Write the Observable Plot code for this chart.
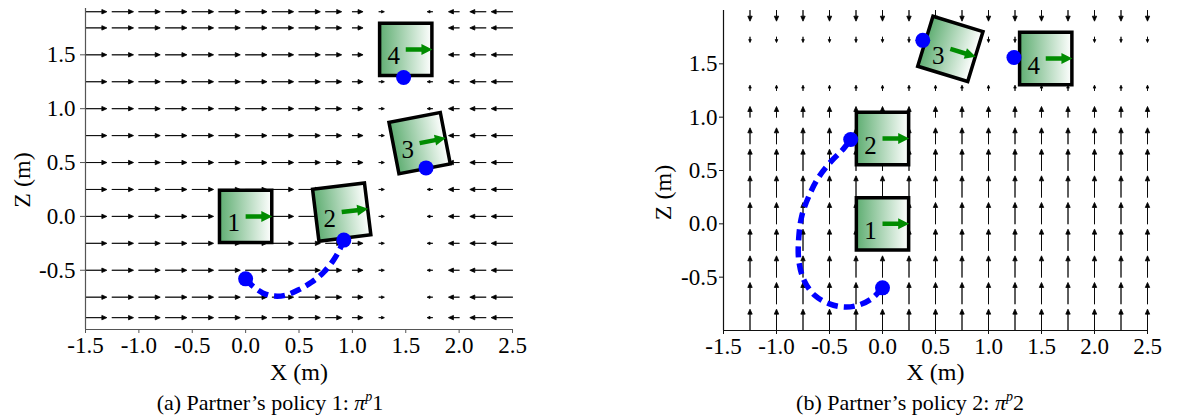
<!DOCTYPE html>
<html><head><meta charset="utf-8">
<script src="https://cdn.jsdelivr.net/npm/d3@7"></script>
<script src="https://cdn.jsdelivr.net/npm/@observablehq/plot@0.6"></script>
<style>
body{margin:0;background:#fff;}
#wrap{position:relative;width:1180px;height:417px;font-family:"Liberation Serif","Times New Roman",serif;overflow:hidden;}
.panel{position:absolute;top:0;}
#wrap svg text{font-family:"Liberation Serif","Times New Roman",serif !important;}
#wrap svg g[aria-label$="tick label"]{font-size:23px !important;}
.cap{position:absolute;top:391px;width:540px;text-align:center;font-size:22px;line-height:24px;color:#000;}
.cap sup{font-size:14px;vertical-align:9px;line-height:0;}
</style></head>
<body>
<svg width="0" height="0" style="position:absolute"><defs>
<linearGradient id="boxGrad" x1="0" y1="0" x2="1" y2="0">
<stop offset="0" stop-color="#5fae72"/><stop offset="1" stop-color="#ffffff"/>
</linearGradient></defs></svg>
<div id="wrap">
  <div id="pa" class="panel" style="left:0"></div>
  <div id="pb" class="panel" style="left:640px"></div>
  <div class="cap" style="left:0">(a) Partner’s policy 1: <i>π</i><sup><i>p</i></sup>1</div>
  <div class="cap" style="left:640px">(b) Partner’s policy 2: <i>π</i><sup><i>p</i></sup>2</div>
</div>
<script>
// ---------- shared ticks ----------
const xTicks = [-1.5, -1.0, -0.5, 0.0, 0.5, 1.0, 1.5, 2.0, 2.5];
const yTicks = [-0.5, 0.0, 0.5, 1.0, 1.5];

// ---------- panel (a): partner's policy 1 ----------
const aFieldX = [-1.5,-1.25,-1,-0.75,-0.5,-0.25,0,0.25,0.5,0.75,1,1.25,1.5,1.75,2,2.25,2.5];
const aFieldU = [0.2,0.2,0.2,0.2,0.2,0.2,0.2,0.2,0.2,0.15,0.1,0.05,0,-0.05,-0.1,-0.15,-0.2];
const aFieldZ = [1.9,1.75,1.5,1.25,1,0.75,0.5,0.25,0,-0.25,-0.5,-0.75,-0.94];
const aBoxId = ["1","2","3","4"];
const aBoxX = [0, 0.9, 1.63, 1.5];
const aBoxZ = [0, 0.04, 0.68, 1.55];
const aBoxAngle = [0, -7, -11, 0];
const aDotX = [0, 0.92, 1.69, 1.48];
const aDotZ = [-0.58, -0.22, 0.45, 1.29];
const aPathX = [0, 0.07, 0.16, 0.27, 0.38, 0.5, 0.62, 0.73, 0.82, 0.88, 0.92];
const aPathZ = [-0.58, -0.65, -0.71, -0.74, -0.73, -0.68, -0.61, -0.52, -0.41, -0.31, -0.22];

// ---------- panel (b): partner's policy 2 ----------
const bFieldX = [-1.25,-1,-0.75,-0.5,-0.25,0,0.25,0.5,0.75,1,1.25,1.5,1.75,2,2.25,2.5];
const bFieldZ = [2,1.75,1.5,1.25,1,0.75,0.5,0.25,0,-0.25,-0.5,-0.75,-1];
const bFieldW = [-0.1,-0.05,0,0.05,0.1,0.15,0.2,0.2,0.2,0.2,0.2,0.2,0.2];
const bBoxId = ["1","2","3","4"];
const bBoxX = [0, 0, 0.64, 1.54];
const bBoxZ = [0, 0.8, 1.64, 1.55];
const bBoxAngle = [0, 0, 17, 0];
const bDotX = [0, -0.3, 0.38, 1.24];
const bDotZ = [-0.6, 0.79, 1.72, 1.56];
const bPathX = [0, -0.1, -0.22, -0.35, -0.5, -0.64, -0.74, -0.79, -0.79, -0.76, -0.69, -0.6, -0.48, -0.38, -0.3];
const bPathZ = [-0.6, -0.7, -0.76, -0.78, -0.75, -0.67, -0.53, -0.34, -0.13, 0.08, 0.27, 0.44, 0.59, 0.69, 0.79];

// ---------- helpers ----------
const fmt = d => d.toFixed(1);
const arrowShape = (shaft, headLen, headWid) => ({
  draw(ctx, l) {
    if (!(l > 0)) return;
    const h = Math.min(headLen, l * 0.55);
    const w = headWid * h / headLen / 2;
    const s = shaft / 2;
    ctx.moveTo(-s, 0);
    ctx.lineTo(-s, h - l);
    ctx.lineTo(-w, h - l);
    ctx.lineTo(0, -l);
    ctx.lineTo(w, h - l);
    ctx.lineTo(s, h - l);
    ctx.lineTo(s, 0);
    ctx.closePath();
  }
});
const blackArrow = arrowShape(0, 5, 4.4);
const greenArrow = arrowShape(4.5, 11, 11);

function makePanel(cfg) {
  const boxes = cfg.boxId.map((id, i) => ({id, x: cfg.boxX[i], z: cfg.boxZ[i], a: cfg.boxAngle[i]}));
  const dots = cfg.dotX.map((x, i) => ({x, z: cfg.dotZ[i]}));
  const path = cfg.pathX.map((x, i) => ({x, z: cfg.pathZ[i]}));
  const svg = Plot.plot({
    width: 540, height: 389,
    marginLeft: cfg.ml, marginRight: cfg.mr, marginTop: cfg.mt, marginBottom: cfg.mb,
    style: {fontFamily: '"Liberation Serif","Times New Roman",serif', fontSize: "23px", background: "white", color: "black", overflow: "visible"},
    x: {domain: [-1.5, 2.5], label: null},
    y: {domain: cfg.yDomain, label: null},
    length: {domain: [0, 0.2], range: [0, 21.35]},
    marks: [
      Plot.vector(cfg.field, {x: "x", y: "z", length: "len", rotate: "rot", anchor: "start",
        shape: blackArrow, fill: "black", stroke: "black", strokeWidth: 0.8}),
      Plot.ruleX([-1.5], {stroke: cfg.axisColor, strokeWidth: 1.2}),
      Plot.ruleY([cfg.yDomain[0]], {stroke: cfg.axisColor, strokeWidth: 1.2}),
      Plot.axisX({ticks: xTicks, tickFormat: fmt, tickSize: 4, tickPadding: 3, stroke: cfg.axisColor, label: null, fontSize: 23}),
      Plot.axisY({ticks: yTicks, tickFormat: fmt, tickSize: cfg.yTickSize, tickPadding: cfg.yTickPad, stroke: cfg.axisColor, label: null, fontSize: 23}),
      Plot.text(["X (m)"], {frameAnchor: "bottom", text: d => d, textAnchor: "middle", lineAnchor: "middle", dy: cfg.xLabDy, fontSize: 24}),
      Plot.text(["Z (m)"], {frameAnchor: "left", text: d => d, textAnchor: "middle", lineAnchor: "middle", rotate: -90, dx: cfg.zLabDx, dy: cfg.zLabDy, fontSize: 24}),
      Plot.line(path, {x: "x", y: "z", curve: "catmull-rom", stroke: "#0000ff", strokeWidth: 5.5, strokeDasharray: "11,6", strokeLinecap: "butt"}),
      Plot.dot(boxes, {x: "x", y: "z", rotate: "a", symbol: "square", r: 29.5, fill: "url(#boxGrad)", stroke: "black", strokeWidth: 3.5}),
      Plot.text(boxes, {x: "x", y: "z", text: "id", dx: -12, dy: 7, fontSize: 25}),
      Plot.vector(boxes, {x: "x", y: "z", length: () => 0.25, rotate: d => 90 + d.a, anchor: "start",
        shape: greenArrow, fill: "#008c00", stroke: "none"}),
      Plot.dot(dots, {x: "x", y: "z", r: 7.5, fill: "#0000ff"})
    ]
  });
  svg.querySelectorAll('g[aria-label$="tick label"]').forEach(g => {
    g.setAttribute("font-family", '"Liberation Serif","Times New Roman",serif');
    g.setAttribute("font-size", "23");
  });
  return svg;
}

// panel (a) field: horizontal arrows, value per column
const aField = [];
aFieldZ.forEach(z => aFieldX.forEach((x, j) => {
  const u = aFieldU[j];
  if (u !== 0) aField.push({x, z, len: Math.abs(u), rot: u > 0 ? 90 : -90});
}));
// panel (b) field: vertical arrows, value per row
const bField = [];
bFieldZ.forEach((z, i) => bFieldX.forEach(x => {
  const w = bFieldW[i];
  if (w !== 0) bField.push({x, z, len: Math.abs(w), rot: w > 0 ? 0 : 180});
}));

document.getElementById("pa").append(makePanel({
  field: aField, boxId: aBoxId, boxX: aBoxX, boxZ: aBoxZ, boxAngle: aBoxAngle,
  dotX: aDotX, dotZ: aDotZ, pathX: aPathX, pathZ: aPathZ,
  yDomain: [-1.05, 1.93], ml: 85, mr: 28, mt: 8, mb: 60,
  axisColor: "#555", yTickSize: 5, yTickPad: 5, xLabDy: 43, zLabDx: -63, zLabDy: 11
}));
document.getElementById("pb").append(makePanel({
  field: bField, boxId: bBoxId, boxX: bBoxX, boxZ: bBoxZ, boxAngle: bBoxAngle,
  dotX: bDotX, dotZ: bDotZ, pathX: bPathX, pathZ: bPathZ,
  yDomain: [-1, 2], ml: 83, mr: 33, mt: 10, mb: 59,
  axisColor: "#111", yTickSize: 4, yTickPad: 2, xLabDy: 42, zLabDx: -60, zLabDy: 22
}));
</script>
</body></html>
